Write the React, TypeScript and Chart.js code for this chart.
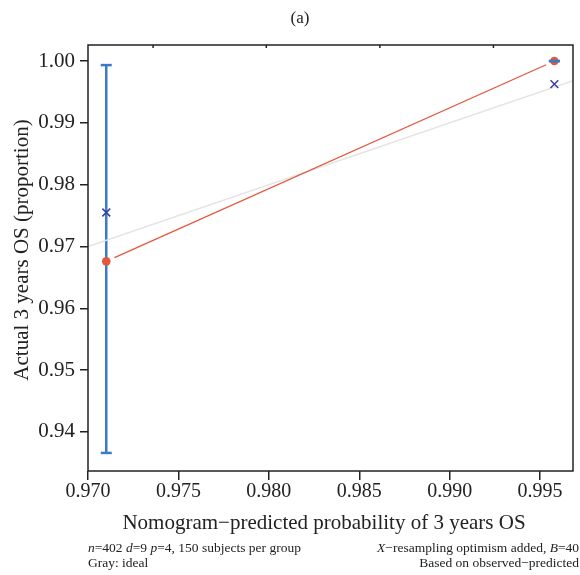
import React, { useEffect, useRef } from "react";
import { Chart, registerables } from "chart.js";

Chart.register(...registerables);

// ---- data ----
const groupPredicted = [0.97101, 0.99579];
const observedProportion = [0.9676, 1.0];
const biasCorrected = [0.9755, 0.99627];
const ciLower = [0.9366, 1.0];
const ciUpper = [0.99935, 1.0];
const rugPredicted = [0.9736, 0.97986, 0.98614, 0.99242];
const xLimits = [0.97, 0.99682];
const yLimits = [0.93368, 1.0026];
const xTicks = [0.97, 0.975, 0.98, 0.985, 0.99, 0.995];
const xTickLabels = ["0.970", "0.975", "0.980", "0.985", "0.990", "0.995"];
const yTicks = [0.94, 0.95, 0.96, 0.97, 0.98, 0.99, 1.0];
const yTickLabels = ["0.94", "0.95", "0.96", "0.97", "0.98", "0.99", "1.00"];
const panelLabel = "(a)";
const xTitle = "Nomogram\u2212predicted probability of 3 years OS";
const yTitle = "Actual 3 years OS (proportion)";
type Seg = { t: string; i?: boolean };
const footLeft1: Seg[] = [
  { t: "n", i: true }, { t: "=402 " }, { t: "d", i: true }, { t: "=9 " },
  { t: "p", i: true }, { t: "=4, 150 subjects per group" },
];
const footLeft2: Seg[] = [{ t: "Gray: ideal" }];
const footRight1: Seg[] = [
  { t: "X", i: true }, { t: "\u2212resampling optimism added, " },
  { t: "B", i: true }, { t: "=40" },
];
const footRight2: Seg[] = [{ t: "Based on observed\u2212predicted" }];

const SERIF = "'Liberation Serif', 'DejaVu Serif', serif";
const RED = "#e4573d";
const BLUE = "#3a7cc4";
const NAVY = "#3d3d9e";
const GRAY = "#e4e4e4";
const INK = "#222222";

function drawRich(ctx: CanvasRenderingContext2D, segs: Seg[], x: number, y: number, align: "left" | "right", size: number) {
  const fontFor = (s: Seg) => `${s.i ? "italic " : ""}${size}px ${SERIF}`;
  let total = 0;
  for (const s of segs) { ctx.font = fontFor(s); total += ctx.measureText(s.t).width; }
  let cx = align === "left" ? x : x - total;
  ctx.textAlign = "left";
  ctx.textBaseline = "middle";
  for (const s of segs) {
    ctx.font = fontFor(s);
    ctx.fillText(s.t, cx, y);
    cx += ctx.measureText(s.t).width;
  }
}

const decorPlugin = {
  id: "decor",
  beforeDatasetsDraw(chart: any) {
    const { ctx, scales } = chart;
    const xs = scales.x, ys = scales.y;
    ctx.save();
    ctx.strokeStyle = BLUE;
    ctx.lineWidth = 2.5;
    for (let i = 0; i < groupPredicted.length; i++) {
      const px = xs.getPixelForValue(groupPredicted[i]);
      ctx.beginPath();
      ctx.moveTo(px, ys.getPixelForValue(ciLower[i]));
      ctx.lineTo(px, ys.getPixelForValue(ciUpper[i]));
      ctx.stroke();
    }
    ctx.restore();
  },
  afterDatasetsDraw(chart: any) {
    const { ctx, scales } = chart;
    const xs = scales.x, ys = scales.y;
    ctx.save();
    // apparent calibration line, drawn with gaps around the points (type "b")
    ctx.strokeStyle = RED;
    ctx.lineWidth = 1.3;
    const gap = 9;
    for (let i = 0; i < groupPredicted.length - 1; i++) {
      const x0 = xs.getPixelForValue(groupPredicted[i]);
      const y0 = ys.getPixelForValue(observedProportion[i]);
      const x1 = xs.getPixelForValue(groupPredicted[i + 1]);
      const y1 = ys.getPixelForValue(observedProportion[i + 1]);
      const len = Math.hypot(x1 - x0, y1 - y0);
      const ux = (x1 - x0) / len, uy = (y1 - y0) / len;
      ctx.beginPath();
      ctx.moveTo(x0 + ux * gap, y0 + uy * gap);
      ctx.lineTo(x1 - ux * gap, y1 - uy * gap);
      ctx.stroke();
    }
    // error bar caps
    ctx.strokeStyle = BLUE;
    ctx.lineWidth = 2.5;
    for (let i = 0; i < groupPredicted.length; i++) {
      const px = xs.getPixelForValue(groupPredicted[i]);
      for (const v of [ciLower[i], ciUpper[i]]) {
        const py = ys.getPixelForValue(v);
        ctx.beginPath();
        ctx.moveTo(px - 5.5, py);
        ctx.lineTo(px + 5.5, py);
        ctx.stroke();
      }
    }
    ctx.restore();
  },
  afterDraw(chart: any) {
    const { ctx, chartArea: a, scales } = chart;
    ctx.save();
    // box
    ctx.strokeStyle = INK;
    ctx.lineWidth = 1.5;
    ctx.strokeRect(a.left, a.top, a.right - a.left, a.bottom - a.top);
    // rug at top
    for (const v of rugPredicted) {
      const px = scales.x.getPixelForValue(v);
      ctx.beginPath();
      ctx.moveTo(px, a.top);
      ctx.lineTo(px, a.top + 3);
      ctx.stroke();
    }
    ctx.fillStyle = INK;
    ctx.textAlign = "center";
    ctx.textBaseline = "middle";
    // y axis title
    ctx.save();
    ctx.translate(22, 250);
    ctx.rotate(-Math.PI / 2);
    ctx.font = `21px ${SERIF}`;
    ctx.fillText(yTitle, 0, 0);
    ctx.restore();
    // x axis title
    ctx.font = `21px ${SERIF}`;
    ctx.fillText(xTitle, 324, 523);
    // panel label
    ctx.font = `17px ${SERIF}`;
    ctx.fillText(panelLabel, 300, 19);
    // footnotes
    drawRich(ctx, footLeft1, a.left, 548, "left", 13.5);
    drawRich(ctx, footLeft2, a.left, 563, "left", 13.5);
    drawRich(ctx, footRight1, 579, 548, "right", 13.5);
    drawRich(ctx, footRight2, 579, 563, "right", 13.5);
    ctx.restore();
  },
};

export default function App() {
  const ref = useRef<HTMLCanvasElement | null>(null);
  useEffect(() => {
    document.body.style.margin = "0";
    const canvas = ref.current!;
    const chart = new Chart(canvas, {
      type: "scatter",
      data: {
        datasets: [
          {
            label: "bias-corrected",
            data: groupPredicted.map((x, i) => ({ x, y: biasCorrected[i] })),
            pointStyle: "crossRot",
            pointRadius: 5.5,
            borderColor: NAVY,
            backgroundColor: NAVY,
            borderWidth: 1.5,
            showLine: false,
          },
          {
            label: "apparent",
            data: groupPredicted.map((x, i) => ({ x, y: observedProportion[i] })),
            pointStyle: "circle",
            pointRadius: 4.3,
            pointBorderWidth: 0,
            borderColor: RED,
            backgroundColor: RED,
            showLine: false,
          },
          {
            label: "ideal",
            data: xLimits.map((v) => ({ x: v, y: v })),
            pointRadius: 0,
            borderColor: GRAY,
            borderWidth: 1.5,
            showLine: true,
          },
        ],
      },
      options: {
        responsive: false,
        animation: false,
        layout: { padding: { top: 45, right: 7, left: 0, bottom: 0 } },
        plugins: { legend: { display: false }, tooltip: { enabled: false }, title: { display: false } },
        scales: {
          x: {
            type: "linear",
            min: xLimits[0],
            max: xLimits[1],
            afterBuildTicks: (s: any) => { s.ticks = xTicks.map((v) => ({ value: v })); },
            afterFit: (s: any) => { s.height = 104; },
            ticks: {
              color: INK,
              font: { family: SERIF, size: 20 },
              padding: 0,
              maxRotation: 0,
              autoSkip: false,
              callback: (v: any) => { const i = xTicks.findIndex((t) => Math.abs(t - v) < 1e-9); return i >= 0 ? xTickLabels[i] : ""; },
            },
            grid: { drawOnChartArea: false, drawTicks: true, tickLength: 9, color: INK, lineWidth: 1.5 },
            border: { display: false },
            title: { display: false },
          },
          y: {
            type: "linear",
            min: yLimits[0],
            max: yLimits[1],
            afterBuildTicks: (s: any) => { s.ticks = yTicks.map((v) => ({ value: v })); },
            afterFit: (s: any) => { s.width = 88; },
            ticks: {
              color: INK,
              font: { family: SERIF, size: 21 },
              padding: 5,
              autoSkip: false,
              callback: (v: any) => { const i = yTicks.findIndex((t) => Math.abs(t - v) < 1e-9); return i >= 0 ? yTickLabels[i] : ""; },
            },
            grid: { drawOnChartArea: false, drawTicks: true, tickLength: 8, color: INK, lineWidth: 1.5 },
            border: { display: false },
            title: { display: false },
          },
        },
      },
      plugins: [decorPlugin],
    });
    return () => chart.destroy();
  }, []);
  return <canvas ref={ref} width={580} height={575} style={{ display: "block", width: 580, height: 575 }} />;
}
